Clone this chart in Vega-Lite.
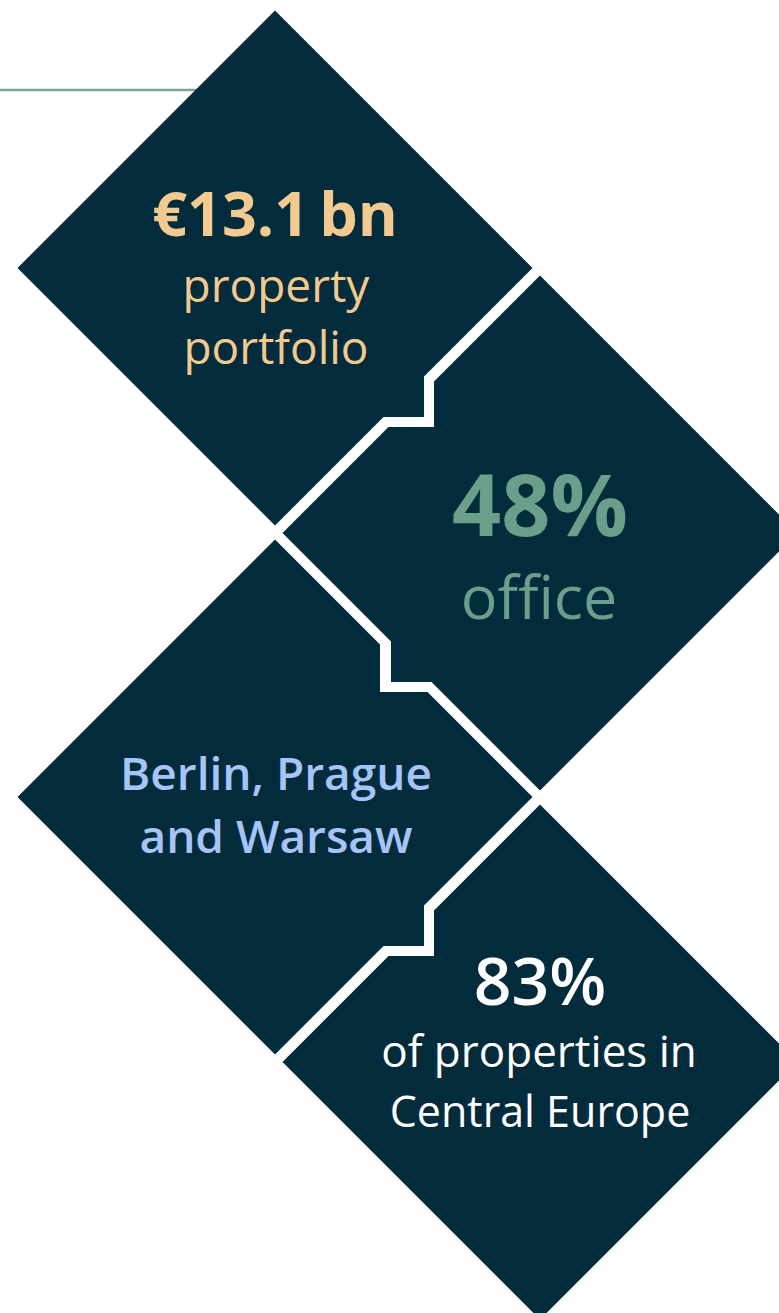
{
  "$schema": "https://vega.github.io/schema/vega-lite/v6.json",
  "width": 779,
  "height": 1313,
  "autosize": {"type": "none"},
  "padding": 0,
  "background": "#ffffff",
  "config": {"view": {"stroke": null}},
  "datasets": {
    "shapes": [
      {"shape": "d1", "i": 0, "x": 275, "y": 10.5},
      {"shape": "d1", "i": 1, "x": 532.5, "y": 268},
      {"shape": "d1", "i": 2, "x": 424, "y": 376.5},
      {"shape": "d1", "i": 3, "x": 424, "y": 417},
      {"shape": "d1", "i": 4, "x": 383.5, "y": 417},
      {"shape": "d1", "i": 5, "x": 275, "y": 525.5},
      {"shape": "d1", "i": 6, "x": 17.5, "y": 268},
      {"shape": "d2", "i": 0, "x": 540, "y": 275.5},
      {"shape": "d2", "i": 1, "x": 797.5, "y": 533},
      {"shape": "d2", "i": 2, "x": 540, "y": 790.5},
      {"shape": "d2", "i": 3, "x": 431.5, "y": 682},
      {"shape": "d2", "i": 4, "x": 391, "y": 682},
      {"shape": "d2", "i": 5, "x": 391, "y": 641.5},
      {"shape": "d2", "i": 6, "x": 282.5, "y": 533},
      {"shape": "d2", "i": 7, "x": 388.5, "y": 427},
      {"shape": "d2", "i": 8, "x": 434, "y": 427},
      {"shape": "d2", "i": 9, "x": 434, "y": 381.5},
      {"shape": "d3", "i": 0, "x": 275, "y": 539.5},
      {"shape": "d3", "i": 1, "x": 380, "y": 644.5},
      {"shape": "d3", "i": 2, "x": 380, "y": 692},
      {"shape": "d3", "i": 3, "x": 427.5, "y": 692},
      {"shape": "d3", "i": 4, "x": 532.5, "y": 797},
      {"shape": "d3", "i": 5, "x": 424, "y": 905.5},
      {"shape": "d3", "i": 6, "x": 424, "y": 946},
      {"shape": "d3", "i": 7, "x": 383.5, "y": 946},
      {"shape": "d3", "i": 8, "x": 275, "y": 1054.5},
      {"shape": "d3", "i": 9, "x": 17.5, "y": 797},
      {"shape": "d4", "i": 0, "x": 540, "y": 804.5},
      {"shape": "d4", "i": 1, "x": 797.5, "y": 1062},
      {"shape": "d4", "i": 2, "x": 540, "y": 1319.5},
      {"shape": "d4", "i": 3, "x": 282.5, "y": 1062},
      {"shape": "d4", "i": 4, "x": 388.5, "y": 956},
      {"shape": "d4", "i": 5, "x": 434, "y": 956},
      {"shape": "d4", "i": 6, "x": 434, "y": 910.5}
    ],
    "labels": [
      {"panel": "d1", "role": "value", "text": "€13.1\u2009bn", "x": 275, "y": 236},
      {"panel": "d1", "role": "caption", "text": "property", "x": 276, "y": 302},
      {"panel": "d1", "role": "caption", "text": "portfolio", "x": 276, "y": 364},
      {"panel": "d2", "role": "value", "text": "48%", "x": 540, "y": 536},
      {"panel": "d2", "role": "caption", "text": "office", "x": 539, "y": 619},
      {"panel": "d3", "role": "caption", "text": "Berlin, Prague", "x": 276, "y": 790},
      {"panel": "d3", "role": "caption", "text": "and Warsaw", "x": 276, "y": 853},
      {"panel": "d4", "role": "value", "text": "83%", "x": 540, "y": 1005},
      {"panel": "d4", "role": "caption", "text": "of properties in", "x": 539, "y": 1067},
      {"panel": "d4", "role": "caption", "text": "Central Europe", "x": 540, "y": 1127}
    ],
    "line": [{"x": 0, "x2": 240, "y": 90}]
  },
  "layer": [
    {
      "data": {"name": "line"},
      "mark": {"type": "rule", "color": "#78a998", "strokeWidth": 2.5},
      "encoding": {
        "x": {"field": "x", "type": "quantitative", "scale": {"domain": [0, 779], "nice": false, "zero": false}, "axis": null},
        "x2": {"field": "x2"},
        "y": {"field": "y", "type": "quantitative", "scale": {"domain": [0, 1313], "nice": false, "zero": false, "reverse": true}, "axis": null}
      }
    },
    {
      "data": {"name": "shapes"},
      "mark": {"type": "line", "interpolate": "linear-closed", "fill": "#022b3b", "stroke": "#022b3b", "strokeWidth": 0, "clip": true},
      "encoding": {
        "x": {"field": "x", "type": "quantitative", "scale": {"domain": [0, 779], "nice": false, "zero": false}, "axis": null},
        "y": {"field": "y", "type": "quantitative", "scale": {"domain": [0, 1313], "nice": false, "zero": false, "reverse": true}, "axis": null},
        "detail": {"field": "shape", "type": "nominal"},
        "order": {"field": "i", "type": "quantitative"}
      }
    },
    {
      "data": {"name": "labels"},
      "transform": [{"filter": "datum.panel === 'd1' && datum.role === 'value'"}],
      "mark": {"type": "text", "font": "Open Sans", "fontSize": 61, "fontWeight": 700, "align": "center", "baseline": "alphabetic", "color": "#f2c98f"},
      "encoding": {
        "x": {"field": "x", "type": "quantitative"},
        "y": {"field": "y", "type": "quantitative"},
        "text": {"field": "text"}
      }
    },
    {
      "data": {"name": "labels"},
      "transform": [{"filter": "datum.panel === 'd1' && datum.role === 'caption'"}],
      "mark": {"type": "text", "font": "Open Sans", "fontSize": 46, "fontWeight": 400, "align": "center", "baseline": "alphabetic", "color": "#f2c98f"},
      "encoding": {
        "x": {"field": "x", "type": "quantitative"},
        "y": {"field": "y", "type": "quantitative"},
        "text": {"field": "text"}
      }
    },
    {
      "data": {"name": "labels"},
      "transform": [{"filter": "datum.panel === 'd2' && datum.role === 'value'"}],
      "mark": {"type": "text", "font": "Open Sans", "fontSize": 86, "fontWeight": 700, "align": "center", "baseline": "alphabetic", "color": "#6b9e8b"},
      "encoding": {
        "x": {"field": "x", "type": "quantitative"},
        "y": {"field": "y", "type": "quantitative"},
        "text": {"field": "text"}
      }
    },
    {
      "data": {"name": "labels"},
      "transform": [{"filter": "datum.panel === 'd2' && datum.role === 'caption'"}],
      "mark": {"type": "text", "font": "Open Sans", "fontSize": 61, "fontWeight": 400, "align": "center", "baseline": "alphabetic", "color": "#6b9e8b"},
      "encoding": {
        "x": {"field": "x", "type": "quantitative"},
        "y": {"field": "y", "type": "quantitative"},
        "text": {"field": "text"}
      }
    },
    {
      "data": {"name": "labels"},
      "transform": [{"filter": "datum.panel === 'd3'"}],
      "mark": {"type": "text", "font": "Open Sans", "fontSize": 46, "fontWeight": 600, "align": "center", "baseline": "alphabetic", "color": "#a7c4f8"},
      "encoding": {
        "x": {"field": "x", "type": "quantitative"},
        "y": {"field": "y", "type": "quantitative"},
        "text": {"field": "text"}
      }
    },
    {
      "data": {"name": "labels"},
      "transform": [{"filter": "datum.panel === 'd4' && datum.role === 'value'"}],
      "mark": {"type": "text", "font": "Open Sans", "fontSize": 66, "fontWeight": 600, "align": "center", "baseline": "alphabetic", "color": "#ffffff"},
      "encoding": {
        "x": {"field": "x", "type": "quantitative"},
        "y": {"field": "y", "type": "quantitative"},
        "text": {"field": "text"}
      }
    },
    {
      "data": {"name": "labels"},
      "transform": [{"filter": "datum.panel === 'd4' && datum.role === 'caption' && datum.text === 'of properties in'"}],
      "mark": {"type": "text", "font": "Open Sans", "fontSize": 44, "fontWeight": 400, "align": "center", "baseline": "alphabetic", "color": "#ffffff"},
      "encoding": {
        "x": {"field": "x", "type": "quantitative"},
        "y": {"field": "y", "type": "quantitative"},
        "text": {"field": "text"}
      }
    },
    {
      "data": {"name": "labels"},
      "transform": [{"filter": "datum.panel === 'd4' && datum.role === 'caption' && datum.text !== 'of properties in'"}],
      "mark": {"type": "text", "font": "Open Sans", "fontSize": 43, "fontWeight": 400, "align": "center", "baseline": "alphabetic", "color": "#ffffff"},
      "encoding": {
        "x": {"field": "x", "type": "quantitative"},
        "y": {"field": "y", "type": "quantitative"},
        "text": {"field": "text"}
      }
    }
  ]
}
